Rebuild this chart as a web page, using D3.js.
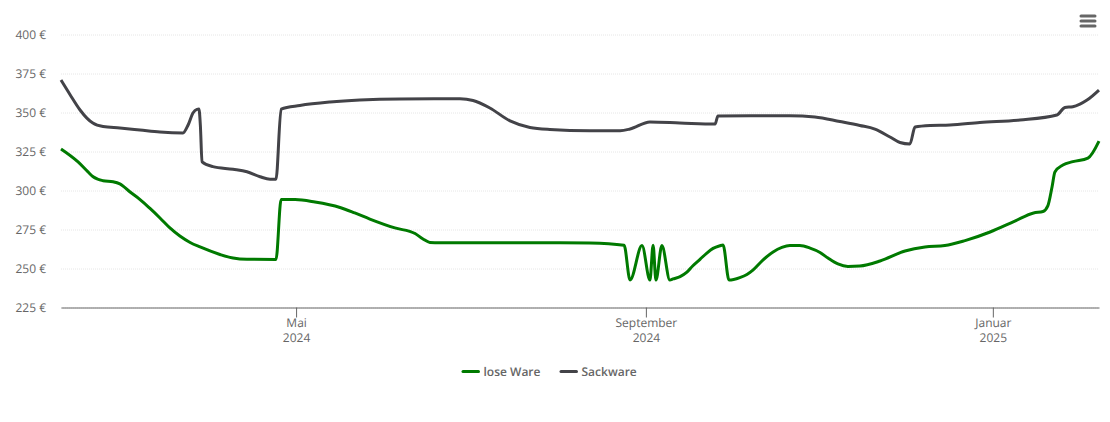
<!DOCTYPE html>
<html>
<head>
<meta charset="utf-8">
<script src="https://cdn.jsdelivr.net/npm/d3@7"></script>
<style>
  html, body { margin: 0; padding: 0; background: #fff; }
  svg { display: block; font-family: "Open Sans", sans-serif; text-rendering: geometricPrecision; }
</style>
</head>
<body>
<div id="chart"></div>
<script>
// days after the first day of the chart
const sackDays = [0, 3.2, 6.7, 9.1, 11.2, 14.8, 20.7, 27.8, 34.8, 42.9, 44.7, 46.4, 47.8, 48.5, 49, 49.6, 53.4, 60.5, 65.4, 70, 73.5, 75.6, 77.4, 84, 94.6, 105.1, 119.2, 140.3, 144.9, 150.8, 157.9, 164.9, 171.9, 186, 196.6, 200.1, 207.1, 217.6, 230, 231, 242.3, 256.3, 265.1, 273.9, 280.9, 286.2, 291.5, 295, 298.5, 300.3, 305.6, 312.6, 323.1, 337.2, 350.2, 353, 355.8, 358.3, 360.8, 365];
const sackValues = [370.8, 361.4, 351.6, 346.4, 343.2, 341, 340.1, 338.8, 337.5, 336.9, 342, 349.7, 352, 352.2, 342, 318.3, 315.3, 313.6, 312, 308.8, 307.2, 307.2, 352.2, 354.5, 356.7, 358, 358.7, 358.8, 357.7, 352.9, 344.6, 340.4, 339.1, 338.3, 338.3, 339.4, 343.9, 343.3, 342.6, 347.8, 347.9, 347.9, 347.1, 344.2, 341.7, 339.4, 334.3, 330.8, 329.8, 340.7, 341.7, 342, 343.6, 345.2, 348.4, 353.2, 353.7, 355.4, 358, 364.4];

const loseDays = [0, 6, 9.5, 11.3, 14.8, 18.3, 20.7, 24.3, 27.8, 31.3, 34.8, 38.3, 41.8, 45.4, 48.9, 55.9, 60.5, 65.4, 75.6, 77.4, 82.3, 89.3, 98.1, 103.3, 108.6, 117.4, 124.5, 127.3, 129.7, 133.3, 175.5, 186, 198, 200.1, 204.3, 207.1, 208.2, 209.2, 211.3, 214.1, 215.2, 217.7, 220.1, 222.2, 224.7, 227.1, 229.3, 231.7, 232.8, 234.9, 238.7, 241.2, 243.3, 246.8, 250.4, 253.5, 256.3, 259.8, 263.4, 266.9, 269.7, 273.2, 276.7, 280.9, 288, 296.8, 303.8, 310.8, 317.9, 326.7, 335.4, 342, 345.3, 347, 348.5, 349.5, 352.3, 355.8, 361.1, 365];
const loseValues = [326.6, 318.3, 311.9, 308.8, 306.3, 305.6, 304.2, 299, 294.2, 288.5, 282.4, 276, 270.8, 266.7, 263.8, 259, 256.7, 255.9, 255.8, 294.2, 294.2, 292.6, 289.1, 285.6, 281.7, 276, 272.4, 268.9, 266.7, 266.5, 266.5, 266.3, 264.9, 242.6, 264.7, 242.6, 264.9, 242.6, 264.7, 242.6, 243.3, 244.8, 247.6, 251.8, 255.9, 259.9, 262.9, 264.6, 265.1, 242.6, 244.2, 246.2, 249, 255.4, 260.6, 263.5, 264.7, 264.7, 263.1, 260.3, 256.7, 252.9, 251.3, 251.6, 254.8, 261.2, 263.8, 264.7, 267.9, 273.4, 280.4, 285.6, 286.5, 290.1, 302.4, 311.9, 316.3, 318.5, 320.8, 331.7];

const yTicks = [225, 250, 275, 300, 325, 350, 375, 400];
const xTickDates = [new Date(2024, 4, 1), new Date(2024, 8, 1), new Date(2025, 0, 1)];
const xTickLabels = [["Mai", "2024"], ["September", "2024"], ["Januar", "2025"]];
const seriesNames = ["lose Ware", "Sackware"];
const seriesColors = ["#007a00", "#434348"];

const W = 1110, H = 422;
const margin = { top: 34.5, right: 11, bottom: 114.5, left: 61 };
const startDate = new Date(2024, 1, 8, 8);
const toDate = d => new Date(+startDate + d * 864e5);

const svg = d3.select("#chart").append("svg").attr("width", W).attr("height", H);

const x = d3.scaleTime()
  .domain([startDate, toDate(365)])
  .range([margin.left, W - margin.right]);

const y = d3.scaleLinear()
  .domain([225, 400])
  .range([H - margin.bottom, margin.top]);

// Y axis with the dotted grid lines
const yAxis = svg.append("g")
  .attr("transform", "translate(" + margin.left + ",0)")
  .call(d3.axisLeft(y)
    .tickValues(yTicks)
    .tickFormat(d => d + " €")
    .tickSizeInner(-(W - margin.left - margin.right))
    .tickSizeOuter(0)
    .tickPadding(15));
yAxis.select(".domain").remove();
yAxis.selectAll("line")
  .attr("stroke", "#e6e6e6")
  .attr("stroke-dasharray", "1,1");
yAxis.selectAll("text")
  .attr("fill", "#666")
  .style("font-size", "12px")
  .style("font-family", '"Open Sans", sans-serif');

// X axis, two line labels
const xAxis = svg.append("g")
  .attr("transform", "translate(0," + (H - margin.bottom) + ")")
  .call(d3.axisBottom(x).tickValues(xTickDates).tickSizeInner(10).tickSizeOuter(0).tickFormat(""));
xAxis.select(".domain").attr("stroke", "#666");
xAxis.selectAll("line").attr("stroke", "#666");
xAxis.selectAll(".tick").each(function (d, i) {
  const label = d3.select(this).select("text")
    .attr("fill", "#666")
    .attr("y", 0)
    .attr("dy", null)
    .style("font-size", "12px")
    .style("font-family", '"Open Sans", sans-serif');
  label.selectAll("tspan")
    .data(xTickLabels[i])
    .join("tspan")
    .attr("x", 0)
    .attr("y", (t, j) => 19.5 + j * 15)
    .text(t => t);
});

const line = d3.line()
  .x(d => x(toDate(d[0])))
  .y(d => y(d[1]))
  .curve(d3.curveMonotoneX);

// Lines
const series = [d3.zip(loseDays, loseValues), d3.zip(sackDays, sackValues)];
svg.selectAll(".series")
  .data(series)
  .enter()
  .append("path")
    .attr("class", "series")
    .attr("d", line)
    .attr("fill", "none")
    .attr("stroke", (d, i) => seriesColors[i])
    .attr("stroke-width", 3)
    .attr("stroke-linejoin", "round");

// Legend
const legendX = [463, 561];
const legend = svg.selectAll(".legend")
  .data(seriesNames)
  .enter()
  .append("g")
    .attr("class", "legend")
    .attr("transform", (d, i) => "translate(" + legendX[i] + ",371.5)");
legend.append("line")
  .attr("x1", 0).attr("x2", 15.5)
  .attr("stroke", (d, i) => seriesColors[i])
  .attr("stroke-width", 3)
  .attr("stroke-linecap", "round");
legend.append("text")
  .attr("x", 20.5)
  .attr("dy", "0.35em")
  .attr("fill", "#666")
  .style("font-size", "12px")
  .style("font-weight", 600)
  .text(d => d);

// Menu button
svg.selectAll(".menu")
  .data([16, 21, 26])
  .enter()
  .append("line")
    .attr("class", "menu")
    .attr("x1", 1081).attr("x2", 1095)
    .attr("y1", d => d).attr("y2", d => d)
    .attr("stroke", "#666")
    .attr("stroke-width", 3)
    .attr("stroke-linecap", "round");
</script>
</body>
</html>
